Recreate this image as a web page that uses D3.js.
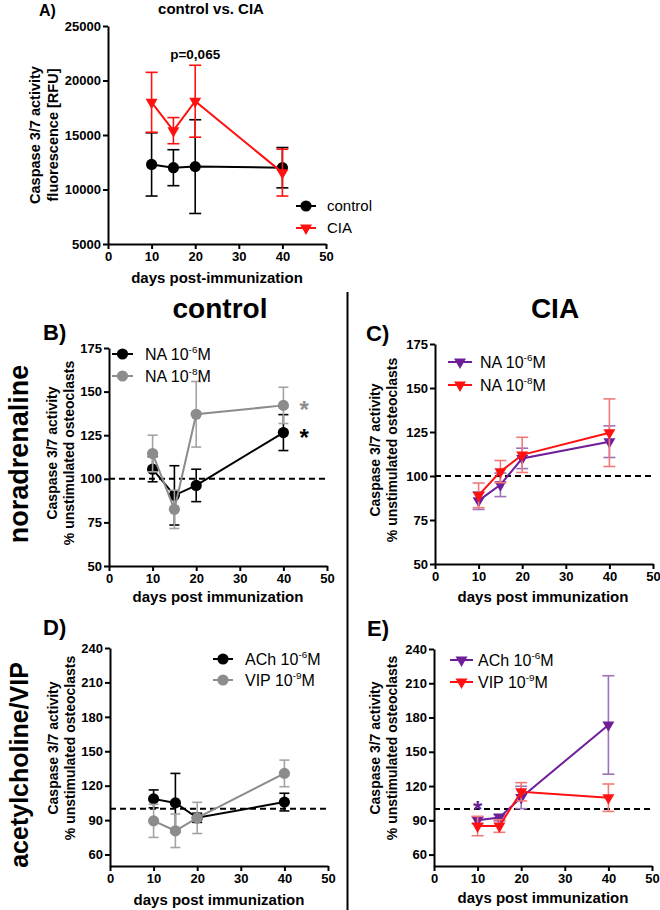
<!DOCTYPE html>
<html><head><meta charset="utf-8">
<script src="https://cdn.jsdelivr.net/npm/d3@7"></script>
<style>body{margin:0;background:#fff} text{font-family:"Liberation Sans",Arial,sans-serif}</style>
</head><body><svg id="c" width="660" height="910" xmlns="http://www.w3.org/2000/svg"></svg>
<script>
// ---------- data ----------
const days = [10, 15, 20, 40];
const xTicks = [0, 10, 20, 30, 40, 50];

// Panel A: control vs CIA (RFU)
const aYTicks = [5000, 10000, 15000, 20000, 25000];
const aControlMean = [12300, 12000, 12100, 12000];
const aControlErr  = [2900, 1650, 4300, 1850];
const aCIAMean     = [18000, 15400, 18100, 11550];
const aCIAErr      = [2750, 1200, 3300, 2150];

// Panel B: control, noradrenaline
const naYTicks = [50, 75, 100, 125, 150, 175];
const bNA6Mean = [105.5, 90.5, 96.2, 126.5];
const bNA6Err  = [7.2, 17, 9.3, 10.3];
const bNA8Mean = [114.5, 82.5, 137, 142.1];
const bNA8Err  = [10.5, 11, 18.8, 10.4];

// Panel C: CIA, noradrenaline
const cNA6Mean = [86, 95, 110, 119.5];
const cNA6Err  = [5, 6.7, 5.8, 9];
const cNA8Mean = [89, 102.5, 112, 124.6];
const cNA8Err  = [7, 6.3, 10, 19.2];

// Panel D: control, ACh / VIP
const acYTicks = [60, 90, 120, 150, 180, 210, 240];
const dAChMean = [108.5, 105, 92, 105.7];
const dAChErr  = [7.8, 25.7, 4, 7.7];
const dVIPMean = [89.3, 80.7, 91.9, 130.7];
const dVIPErr  = [14.4, 14.6, 13.6, 11.6];

// Panel E: CIA, ACh / VIP
const eAChMean = [90, 92.5, 110, 173.5];
const eAChErr  = [3, 3, 9.8, 43.1];
const eVIPMean = [85, 85, 115, 109.8];
const eVIPErr  = [8.5, 5.5, 8, 12];

// ---------- drawing ----------
const svg = d3.select('#c');
const FONT = '"Liberation Sans",Arial,sans-serif';
const BLACK = '#000000', GRAY = '#8c8c8c', GRAYERR = '#a3a3a3',
      RED = '#ff1111', REDERR = '#f07a7a', PURPLE = '#6e1f98', PURPLEERR = '#9c73b8';

function marker(sel, shape, color, cx, cy) {
  if (shape === 'circle') {
    sel.append('circle').attr('cx', cx).attr('cy', cy).attr('r', 5.6).attr('fill', color);
  } else {
    sel.append('path').attr('d', d3.symbol().type(d3.symbolTriangle).size(62)())
      .attr('transform', `translate(${cx},${cy}) rotate(180)`).attr('fill', color);
  }
}

function panel(o) {
  const x = d3.scaleLinear().domain([0, 50]).range([o.x0, o.x1]);
  const y = d3.scaleLinear().domain(o.yDomain).range([o.y1, o.y0]);
  const g = svg.append('g');
  if (o.ref != null) {
    g.append('line').attr('x1', x(0)).attr('x2', x(50)).attr('y1', y(o.ref)).attr('y2', y(o.ref))
      .attr('stroke', '#000').attr('stroke-width', 2).attr('stroke-dasharray', '6,4');
  }
  const ax = g.append('g').attr('transform', `translate(0,${o.y1})`)
    .call(d3.axisBottom(x).tickValues(xTicks).tickFormat(d3.format('d')).tickSize(5).tickSizeOuter(0).tickPadding(3));
  const ay = g.append('g').attr('transform', `translate(${o.x0},0)`)
    .call(d3.axisLeft(y).tickValues(o.yTicks).tickFormat(d3.format('d')).tickSize(5).tickSizeOuter(0).tickPadding(2));
  [ax, ay].forEach(a => {
    a.attr('font-family', FONT).attr('font-size', 13).attr('font-weight', 'bold');
    a.select('.domain').attr('stroke-width', 2);
    a.selectAll('.tick line').attr('stroke-width', 2);
    a.selectAll('.tick text').attr('fill', '#000');
  });
  o.series.forEach(s => {
    const sg = g.append('g');
    days.forEach((d, i) => {
      const hi = y(s.mean[i] + s.err[i]), lo = y(s.mean[i] - s.err[i]), cx = x(d);
      sg.append('line').attr('x1', cx).attr('x2', cx).attr('y1', hi).attr('y2', lo)
        .attr('stroke', s.errColor).attr('stroke-width', 1.6);
      [hi, lo].forEach(yy => sg.append('line').attr('x1', cx - o.cap).attr('x2', cx + o.cap)
        .attr('y1', yy).attr('y2', yy).attr('stroke', s.errColor).attr('stroke-width', 1.6));
    });
    sg.append('path').datum(days.map((d, i) => [x(d), y(s.mean[i])]))
      .attr('d', d3.line()).attr('fill', 'none').attr('stroke', s.color).attr('stroke-width', 2);
    days.forEach((d, i) => marker(sg, s.shape, s.color, x(d), y(s.mean[i])));
  });
  // legend
  o.series.forEach((s, i) => {
    const ly = o.leg.y[i];
    g.append('line').attr('x1', o.leg.l0).attr('x2', o.leg.l1).attr('y1', ly).attr('y2', ly)
      .attr('stroke', s.color).attr('stroke-width', 2);
    marker(g, s.shape, s.color, (o.leg.l0 + o.leg.l1) / 2, ly);
    const t = g.append('text').attr('x', o.leg.tx).attr('y', ly + o.leg.fs * 0.36)
      .attr('font-size', o.leg.fs).attr('fill', '#000');
    t.append('tspan').text(s.label);
    if (s.sup) {
      t.append('tspan').text(s.sup).attr('font-size', o.leg.fs * 0.62).attr('dy', -o.leg.fs * 0.42);
      t.append('tspan').text('M').attr('dy', o.leg.fs * 0.42);
    }
  });
  // axis labels
  g.append('text').attr('x', o.xl.x).attr('y', o.xl.y).attr('text-anchor', 'middle')
    .attr('font-size', 15).attr('font-weight', 'bold').text(o.xl.text);
  o.yl.lines.forEach((ln, i) => {
    g.append('text').attr('transform', `translate(${o.yl.x[i]},${o.yl.cy}) rotate(-90)`)
      .attr('text-anchor', 'middle').attr('dominant-baseline', 'central')
      .attr('font-size', o.yl.fs).attr('font-weight', 'bold').text(ln);
  });
  return {x, y, g};
}

// Panel A
const A = panel({
  x0: 108, x1: 326, y0: 26, y1: 244, yDomain: [5000, 25000], yTicks: aYTicks, cap: 6,
  series: [
    {mean: aControlMean, err: aControlErr, color: BLACK, errColor: BLACK, shape: 'circle', label: 'control'},
    {mean: aCIAMean, err: aCIAErr, color: RED, errColor: RED, shape: 'tri', label: 'CIA'}
  ],
  leg: {l0: 296, l1: 316, tx: 327, y: [206, 228], fs: 15},
  xl: {x: 217, y: 283, text: 'days post-immunization'},
  yl: {lines: ['Caspase 3/7 activity', 'fluorescence [RFU]'], x: [35, 53], cy: 135, fs: 14.5}
});
A.g.append('text').attr('x', A.x(20)).attr('y', 59).attr('text-anchor', 'middle')
  .attr('font-size', 13.5).attr('font-weight', 'bold').text('p=0,065');

// Panel B
const B = panel({
  x0: 109, x1: 327, y0: 348, y1: 566, yDomain: [50, 175], yTicks: naYTicks, ref: 100, cap: 5,
  series: [
    {mean: bNA6Mean, err: bNA6Err, color: BLACK, errColor: BLACK, shape: 'circle', label: 'NA 10', sup: '-6'},
    {mean: bNA8Mean, err: bNA8Err, color: GRAY, errColor: GRAYERR, shape: 'circle', label: 'NA 10', sup: '-8'}
  ],
  leg: {l0: 112, l1: 133, tx: 145, y: [354, 376], fs: 16},
  xl: {x: 218, y: 602, text: 'days post immunization'},
  yl: {lines: ['Caspase 3/7 activity', '% unstimulated osteoclasts'], x: [52, 69], cy: 453, fs: 14}
});
B.g.append('text').attr('x', B.x(40) + 16).attr('y', B.y(bNA8Mean[3]) + 13).attr('font-size', 24)
  .attr('font-weight', 'bold').attr('fill', GRAY).text('*');
B.g.append('text').attr('x', B.x(40) + 16).attr('y', B.y(bNA6Mean[3]) + 13).attr('font-size', 24)
  .attr('font-weight', 'bold').attr('fill', BLACK).text('*');

// Panel C
panel({
  x0: 435, x1: 653, y0: 344, y1: 564, yDomain: [50, 175], yTicks: naYTicks, ref: 100, cap: 6,
  series: [
    {mean: cNA6Mean, err: cNA6Err, color: PURPLE, errColor: PURPLEERR, shape: 'tri', label: 'NA 10', sup: '-6'},
    {mean: cNA8Mean, err: cNA8Err, color: RED, errColor: REDERR, shape: 'tri', label: 'NA 10', sup: '-8'}
  ],
  leg: {l0: 448, l1: 472, tx: 480, y: [362, 385], fs: 16},
  xl: {x: 543, y: 602, text: 'days post immunization'},
  yl: {lines: ['Caspase 3/7 activity', '% unstimulated osteoclasts'], x: [375, 392], cy: 450, fs: 14}
});

// Panel D
panel({
  x0: 110, x1: 328, y0: 648, y1: 866, yDomain: [50, 240], yTicks: acYTicks, ref: 100, cap: 5,
  series: [
    {mean: dAChMean, err: dAChErr, color: BLACK, errColor: BLACK, shape: 'circle', label: 'ACh 10', sup: '-6'},
    {mean: dVIPMean, err: dVIPErr, color: GRAY, errColor: GRAYERR, shape: 'circle', label: 'VIP 10', sup: '-9'}
  ],
  leg: {l0: 213, l1: 233, tx: 245, y: [659, 680], fs: 16},
  xl: {x: 219, y: 905, text: 'days post immunization'},
  yl: {lines: ['Caspase 3/7 activity', '% unstimulated osteoclasts'], x: [53, 70], cy: 748, fs: 14}
});

// Panel E
const E = panel({
  x0: 434, x1: 652, y0: 649, y1: 866, yDomain: [50, 240], yTicks: acYTicks, ref: 100, cap: 6,
  series: [
    {mean: eAChMean, err: eAChErr, color: PURPLE, errColor: PURPLEERR, shape: 'tri', label: 'ACh 10', sup: '-6'},
    {mean: eVIPMean, err: eVIPErr, color: RED, errColor: REDERR, shape: 'tri', label: 'VIP 10', sup: '-9'}
  ],
  leg: {l0: 450, l1: 473, tx: 478, y: [660, 682], fs: 16},
  xl: {x: 543, y: 903, text: 'days post immunization'},
  yl: {lines: ['Caspase 3/7 activity', '% unstimulated osteoclasts'], x: [375, 392], cy: 748, fs: 14}
});
E.g.append('text').attr('x', E.x(10)).attr('y', E.y(eAChMean[0]) - 2).attr('text-anchor', 'middle')
  .attr('font-size', 24).attr('font-weight', 'bold').attr('fill', PURPLE).text('*');

// ---------- titles / labels ----------
const T = (x, y, txt, fs, anchor) => svg.append('text').attr('x', x).attr('y', y)
  .attr('text-anchor', anchor || 'start').attr('font-size', fs).attr('font-weight', 'bold').text(txt);
T(39, 16, 'A)', 16);
T(211, 14, 'control vs. CIA', 15, 'middle');
T(220, 318, 'control', 28, 'middle');
T(555, 318, 'CIA', 28, 'middle');
T(43, 340, 'B)', 22);
T(366, 341, 'C)', 22);
T(43, 635, 'D)', 22);
T(367, 636, 'E)', 22);
svg.append('text').attr('transform', 'translate(28,454) rotate(-90)').attr('text-anchor', 'middle')
  .attr('font-size', 27).attr('font-weight', 'bold').text('noradrenaline');
svg.append('text').attr('transform', 'translate(28,765) rotate(-90)').attr('text-anchor', 'middle')
  .attr('font-size', 25).attr('font-weight', 'bold').text('acetylcholine/VIP');
svg.append('line').attr('x1', 347.5).attr('x2', 347.5).attr('y1', 292).attr('y2', 910)
  .attr('stroke', '#000').attr('stroke-width', 2);
</script>
</body></html>
